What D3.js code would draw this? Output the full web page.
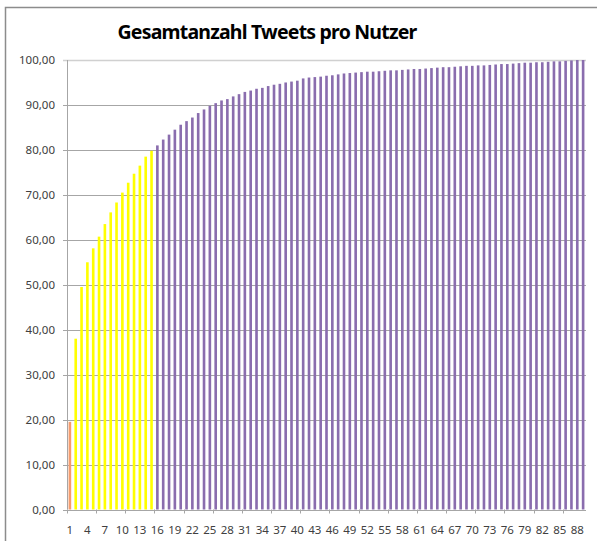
<!DOCTYPE html>
<html>
<head>
<meta charset="utf-8">
<script src="https://cdn.jsdelivr.net/npm/d3@7"></script>
<style>
  body { margin: 0; background: #fff; }
  text { font-family: "Noto Sans", sans-serif; }
</style>
</head>
<body>
<div id="chart"></div>
<script>
// cumulative share (%) per user rank
var valuesTop = [19.5, 38.0, 49.5, 55.0, 58.1, 60.7, 63.5, 66.1, 68.3, 70.5, 72.7, 74.7, 76.5, 78.5, 79.8];
var valuesMid = [81.0, 82.3, 83.4, 84.5, 85.6, 86.4, 87.2, 88.2, 89.0, 89.8, 90.4, 91.0, 91.3, 91.9,
                 92.4, 92.9, 93.2, 93.6, 93.8, 94.2, 94.5, 94.7, 95.0, 95.2];
var valuesTail = [95.4, 95.9, 96.1, 96.2, 96.3, 96.5, 96.6, 96.8, 97.0, 97.1, 97.2, 97.3, 97.4, 97.4,
                  97.5, 97.6, 97.7, 97.7, 97.8, 97.9, 98.0, 98.0, 98.1, 98.2, 98.3,
                  98.4, 98.4, 98.5, 98.6, 98.7, 98.7, 98.8, 98.8, 98.9, 99.0, 99.1, 99.1, 99.2,
                  99.3, 99.4, 99.4, 99.5, 99.5, 99.6, 99.7, 99.7, 99.8, 99.9, 100.0, 100.0];
var yTicks = [0, 10, 20, 30, 40, 50, 60, 70, 80, 90, 100];

var values = valuesTop.concat(valuesMid, valuesTail);
var categories = values.map(function(d, i) { return i + 1; });

function barColor(i) {
    if (i == 0) return "#F59C6E";
    if (i < valuesTop.length) return "#FFFF00";
    return "#8A6DAE";
}

var width = 597,
    height = 547,
    plotLeft = 67,
    plotRight = 586,
    plotTop = 60,
    plotBottom = 509.5;

var svg = d3.select("#chart").append("svg")
    .attr("width", width)
    .attr("height", height);

// chart frame
svg.append("path")
    .attr("d", "M5.5,541V7.5H600")
    .attr("fill", "none")
    .attr("stroke", "#8c8c8c")
    .attr("stroke-width", 1.5);

var x = d3.scaleBand()
    .domain(categories)
    .range([plotLeft, plotRight])
    .paddingInner(0.55)
    .paddingOuter(0.27);

var y = d3.scaleLinear()
    .domain([0, 100])
    .range([plotBottom, plotTop]);

var locale = d3.formatLocale({decimal: ",", thousands: ".", grouping: [3], currency: ["", "€"]});
var fmt = locale.format(".2f");

// gridlines
svg.append("g").selectAll("line")
    .data(yTicks)
    .join("line")
    .attr("x1", plotLeft - 4)
    .attr("x2", plotRight)
    .attr("y1", function(d) { return Math.round(y(d)) + 0.5; })
    .attr("y2", function(d) { return Math.round(y(d)) + 0.5; })
    .attr("stroke", function(d) { return d == 100 ? "#d0d0d0" : "#a6a6a6"; })
    .attr("stroke-width", function(d) { return d == 100 ? 1.5 : 1; });

// y labels
svg.append("g").selectAll("text")
    .data(yTicks)
    .join("text")
    .attr("x", 55)
    .attr("y", function(d) { return y(d); })
    .attr("dy", "0.35em")
    .attr("text-anchor", "end")
    .attr("font-size", 11.5)
    .attr("fill", "#404040")
    .text(function(d) { return fmt(d); });

// bars
svg.append("g").selectAll("rect")
    .data(values)
    .join("rect")
    .attr("x", function(d, i) { return x(categories[i]); })
    .attr("width", x.bandwidth())
    .attr("y", function(d) { return y(d); })
    .attr("height", function(d) { return y(0) - y(d); })
    .attr("fill", function(d, i) { return barColor(i); });

// axes lines
svg.append("line")
    .attr("x1", plotLeft + 0.5).attr("x2", plotLeft + 0.5)
    .attr("y1", plotTop).attr("y2", plotBottom)
    .attr("stroke", "#a6a6a6");
svg.append("line")
    .attr("x1", plotLeft).attr("x2", plotRight)
    .attr("y1", Math.round(plotBottom) + 0.5).attr("y2", Math.round(plotBottom) + 0.5)
    .attr("stroke", "#a6a6a6");

// x tick marks every 5 categories
var step = (plotRight - plotLeft) / categories.length;
var marks = d3.range(0, categories.length + 1, 5);
svg.append("g").selectAll("line")
    .data(marks)
    .join("line")
    .attr("x1", function(d) { return Math.round(plotLeft + d * step) + 0.5; })
    .attr("x2", function(d) { return Math.round(plotLeft + d * step) + 0.5; })
    .attr("y1", plotBottom)
    .attr("y2", plotBottom + 4)
    .attr("stroke", "#a6a6a6");

// x labels every 3
svg.append("g").selectAll("text")
    .data(categories.filter(function(c) { return (c - 1) % 3 == 0; }))
    .join("text")
    .attr("x", function(d) { return x(d) + x.bandwidth() / 2; })
    .attr("y", 534)
    .attr("text-anchor", "middle")
    .attr("font-size", 11.5)
    .attr("fill", "#404040")
    .text(function(d) { return d; });

// title
svg.append("text")
    .attr("x", 267)
    .attr("y", 39)
    .attr("text-anchor", "middle")
    .attr("font-size", 19.5)
    .attr("font-weight", "bold")
    .attr("letter-spacing", -0.8)
    .attr("fill", "#000")
    .text("Gesamtanzahl Tweets pro Nutzer");
</script>
</body>
</html>
